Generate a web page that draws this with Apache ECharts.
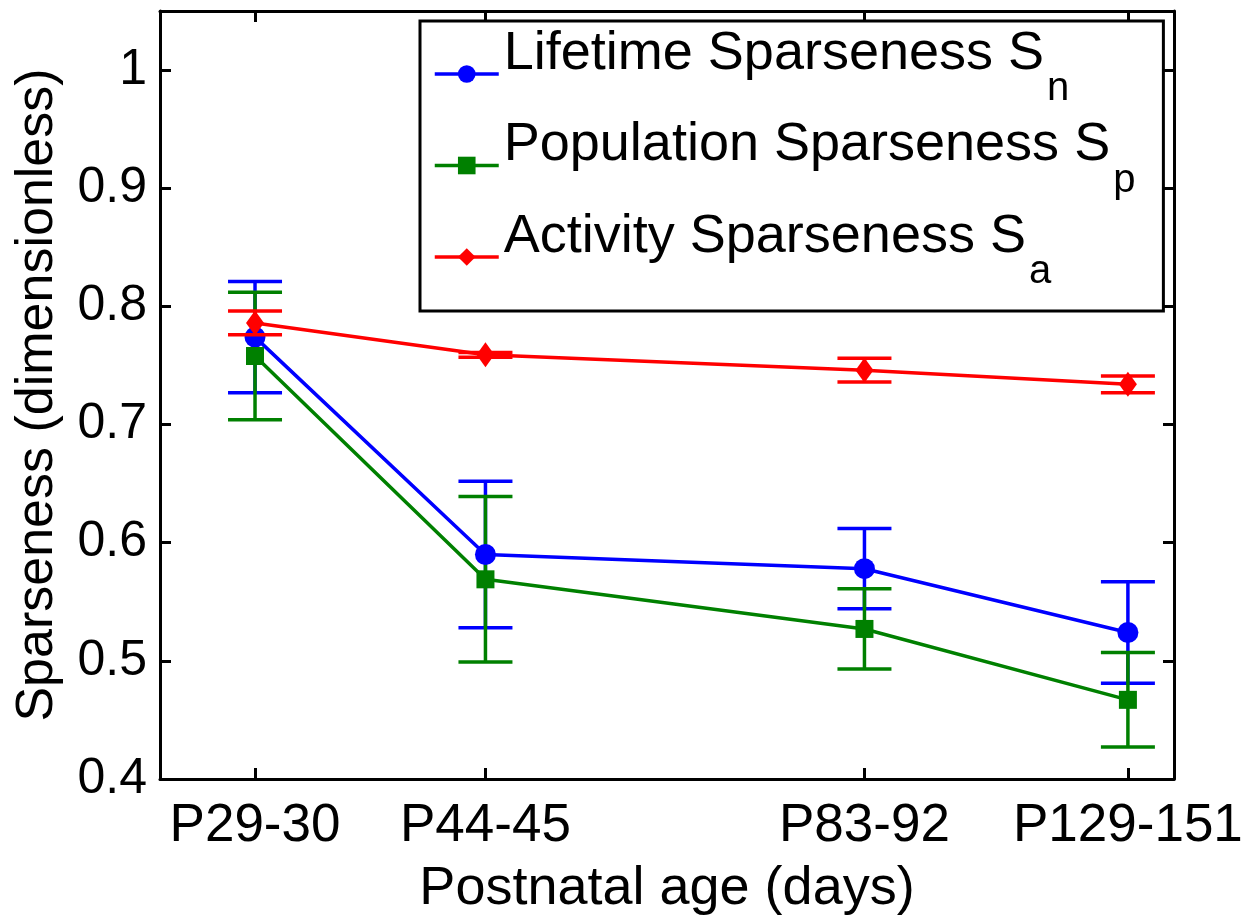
<!DOCTYPE html>
<html>
<head>
<meta charset="utf-8">
<title>Sparseness vs postnatal age</title>
<script src="https://cdn.jsdelivr.net/npm/echarts@6/dist/echarts.min.js"></script>
<style>
  html, body { margin: 0; padding: 0; background: #fff; }
  #chart { width: 1241px; height: 915px; }
</style>
</head>
<body>
<div id="chart"></div>
<script>
// age groups (midpoint in days, log x axis) and their tick labels
const ageLabels = ['P29-30', 'P44-45', 'P83-92', 'P129-151'];
const ageDays = [29.5, 44.5, 87.5, 140];

// mean sparseness and error bar half-length per age group
const lifetimeMean = [0.774, 0.590, 0.578, 0.524];
const lifetimeErr = [0.047, 0.062, 0.034, 0.043];
const populationMean = [0.758, 0.569, 0.527, 0.467];
const populationErr = [0.054, 0.070, 0.034, 0.040];
const activityMean = [0.786, 0.759, 0.746, 0.734];
const activityErr = [0.010, 0.002, 0.010, 0.007];

const seriesNames = ['Lifetime Sparseness S', 'Population Sparseness S', 'Activity Sparseness S'];
const seriesSubs = ['n', 'p', 'a'];

const FONT = '"Liberation Sans", Arial, Helvetica, sans-serif';
const BLUE = '#0000ff';
const GREEN = '#008000';
const RED = '#ff0000';

function pointData(means) {
  return ageDays.map((d, i) => [d, means[i]]);
}

function barData(means, errs) {
  return ageDays.map((d, i) => [d, means[i] - errs[i], means[i] + errs[i]]);
}

// vertical error bar with horizontal caps
function errorBar(color) {
  return function (params, api) {
    const x = api.value(0);
    const lo = api.coord([x, api.value(1)]);
    const hi = api.coord([x, api.value(2)]);
    const half = 27;
    const style = { stroke: color, lineWidth: 3.5, fill: null };
    return {
      type: 'group',
      children: [
        { type: 'line', shape: { x1: hi[0], y1: hi[1], x2: lo[0], y2: lo[1] }, style },
        { type: 'line', shape: { x1: hi[0] - half, y1: hi[1], x2: hi[0] + half, y2: hi[1] }, style },
        { type: 'line', shape: { x1: lo[0] - half, y1: lo[1], x2: lo[0] + half, y2: lo[1] }, style }
      ]
    };
  };
}

function errSeries(means, errs, color, z) {
  return {
    type: 'custom',
    renderItem: errorBar(color),
    data: barData(means, errs),
    encode: { x: 0, y: [1, 2] },
    z: z,
    silent: true
  };
}

function lineSeries(name, means, color, symbol, size, z) {
  return {
    name: name,
    type: 'line',
    data: pointData(means),
    symbol: symbol,
    symbolSize: size,
    showSymbol: true,
    lineStyle: { color: color, width: 3.5 },
    itemStyle: { color: color },
    z: z,
    animation: false
  };
}

const chart = echarts.init(document.getElementById('chart'));

const axisLine = { show: true, lineStyle: { color: '#000', width: 3 } };
const axisTick = { show: true, inside: true, length: 11, lineStyle: { color: '#000', width: 3 } };

chart.setOption({
  animation: false,
  backgroundColor: '#fff',
  textStyle: { fontFamily: FONT },
  grid: { left: 160, right: 67, top: 11, bottom: 136, containLabel: false, outerBoundsMode: 'none' },
  legend: {
    data: seriesNames,
    orient: 'vertical',
    left: 420,
    top: 21,
    padding: [6, 28, 19, 13],
    itemGap: 9.5,
    itemWidth: 64,
    itemHeight: 22,
    backgroundColor: '#fff',
    borderColor: '#000',
    borderWidth: 3,
    borderRadius: 0,
    lineStyle: { width: 3.5 },
    formatter: name => '{main|' + name + '}{sub|' + seriesSubs[seriesNames.indexOf(name)] + '}',
    textStyle: {
      color: '#000',
      fontFamily: FONT,
      rich: {
        main: { fontSize: 54, padding: [0, 0, 40, 0], color: '#000', fontFamily: FONT },
        sub: { fontSize: 40, padding: [30, 0, 0, 3], color: '#000', fontFamily: FONT }
      }
    }
  },
  xAxis: [
    {
      type: 'log',
      min: 24.9,
      max: 152,
      position: 'bottom',
      name: 'Postnatal age (days)',
      nameLocation: 'middle',
      nameGap: 83,
      nameTextStyle: { fontSize: 54, color: '#000', fontFamily: FONT },
      axisLine: axisLine,
      axisTick: Object.assign({ customValues: ageDays }, axisTick),
      axisLabel: {
        customValues: ageDays,
        formatter: v => ageLabels[ageDays.indexOf(v)] || '',
        fontSize: 53,
        color: '#000',
        margin: 21,
        fontFamily: FONT
      },
      splitLine: { show: false },
      minorTick: { show: false }
    },
    {
      type: 'log',
      min: 24.9,
      max: 152,
      position: 'top',
      axisLine: axisLine,
      axisTick: Object.assign({ customValues: ageDays }, axisTick),
      axisLabel: { show: false },
      splitLine: { show: false }
    }
  ],
  yAxis: [
    {
      type: 'value',
      min: 0.4,
      max: 1.05,
      interval: 0.1,
      position: 'left',
      name: 'Sparseness (dimensionless)',
      nameLocation: 'middle',
      nameGap: 96,
      nameTextStyle: { fontSize: 52, color: '#000', fontFamily: FONT },
      axisLine: axisLine,
      axisTick: axisTick,
      axisLabel: { fontSize: 50, color: '#000', margin: 13, showMaxLabel: false, fontFamily: FONT },
      splitLine: { show: false }
    },
    {
      type: 'value',
      min: 0.4,
      max: 1.05,
      interval: 0.1,
      position: 'right',
      axisLine: axisLine,
      axisTick: axisTick,
      axisLabel: { show: false },
      splitLine: { show: false }
    }
  ],
  series: [
    errSeries(lifetimeMean, lifetimeErr, BLUE, 2),
    errSeries(populationMean, populationErr, GREEN, 3),
    lineSeries(seriesNames[0], lifetimeMean, BLUE, 'circle', 21, 4),
    lineSeries(seriesNames[1], populationMean, GREEN, 'rect', 18, 5),
    errSeries(activityMean, activityErr, RED, 6),
    lineSeries(seriesNames[2], activityMean, RED, 'diamond', [18, 25], 7)
  ]
});
</script>
</body>
</html>
